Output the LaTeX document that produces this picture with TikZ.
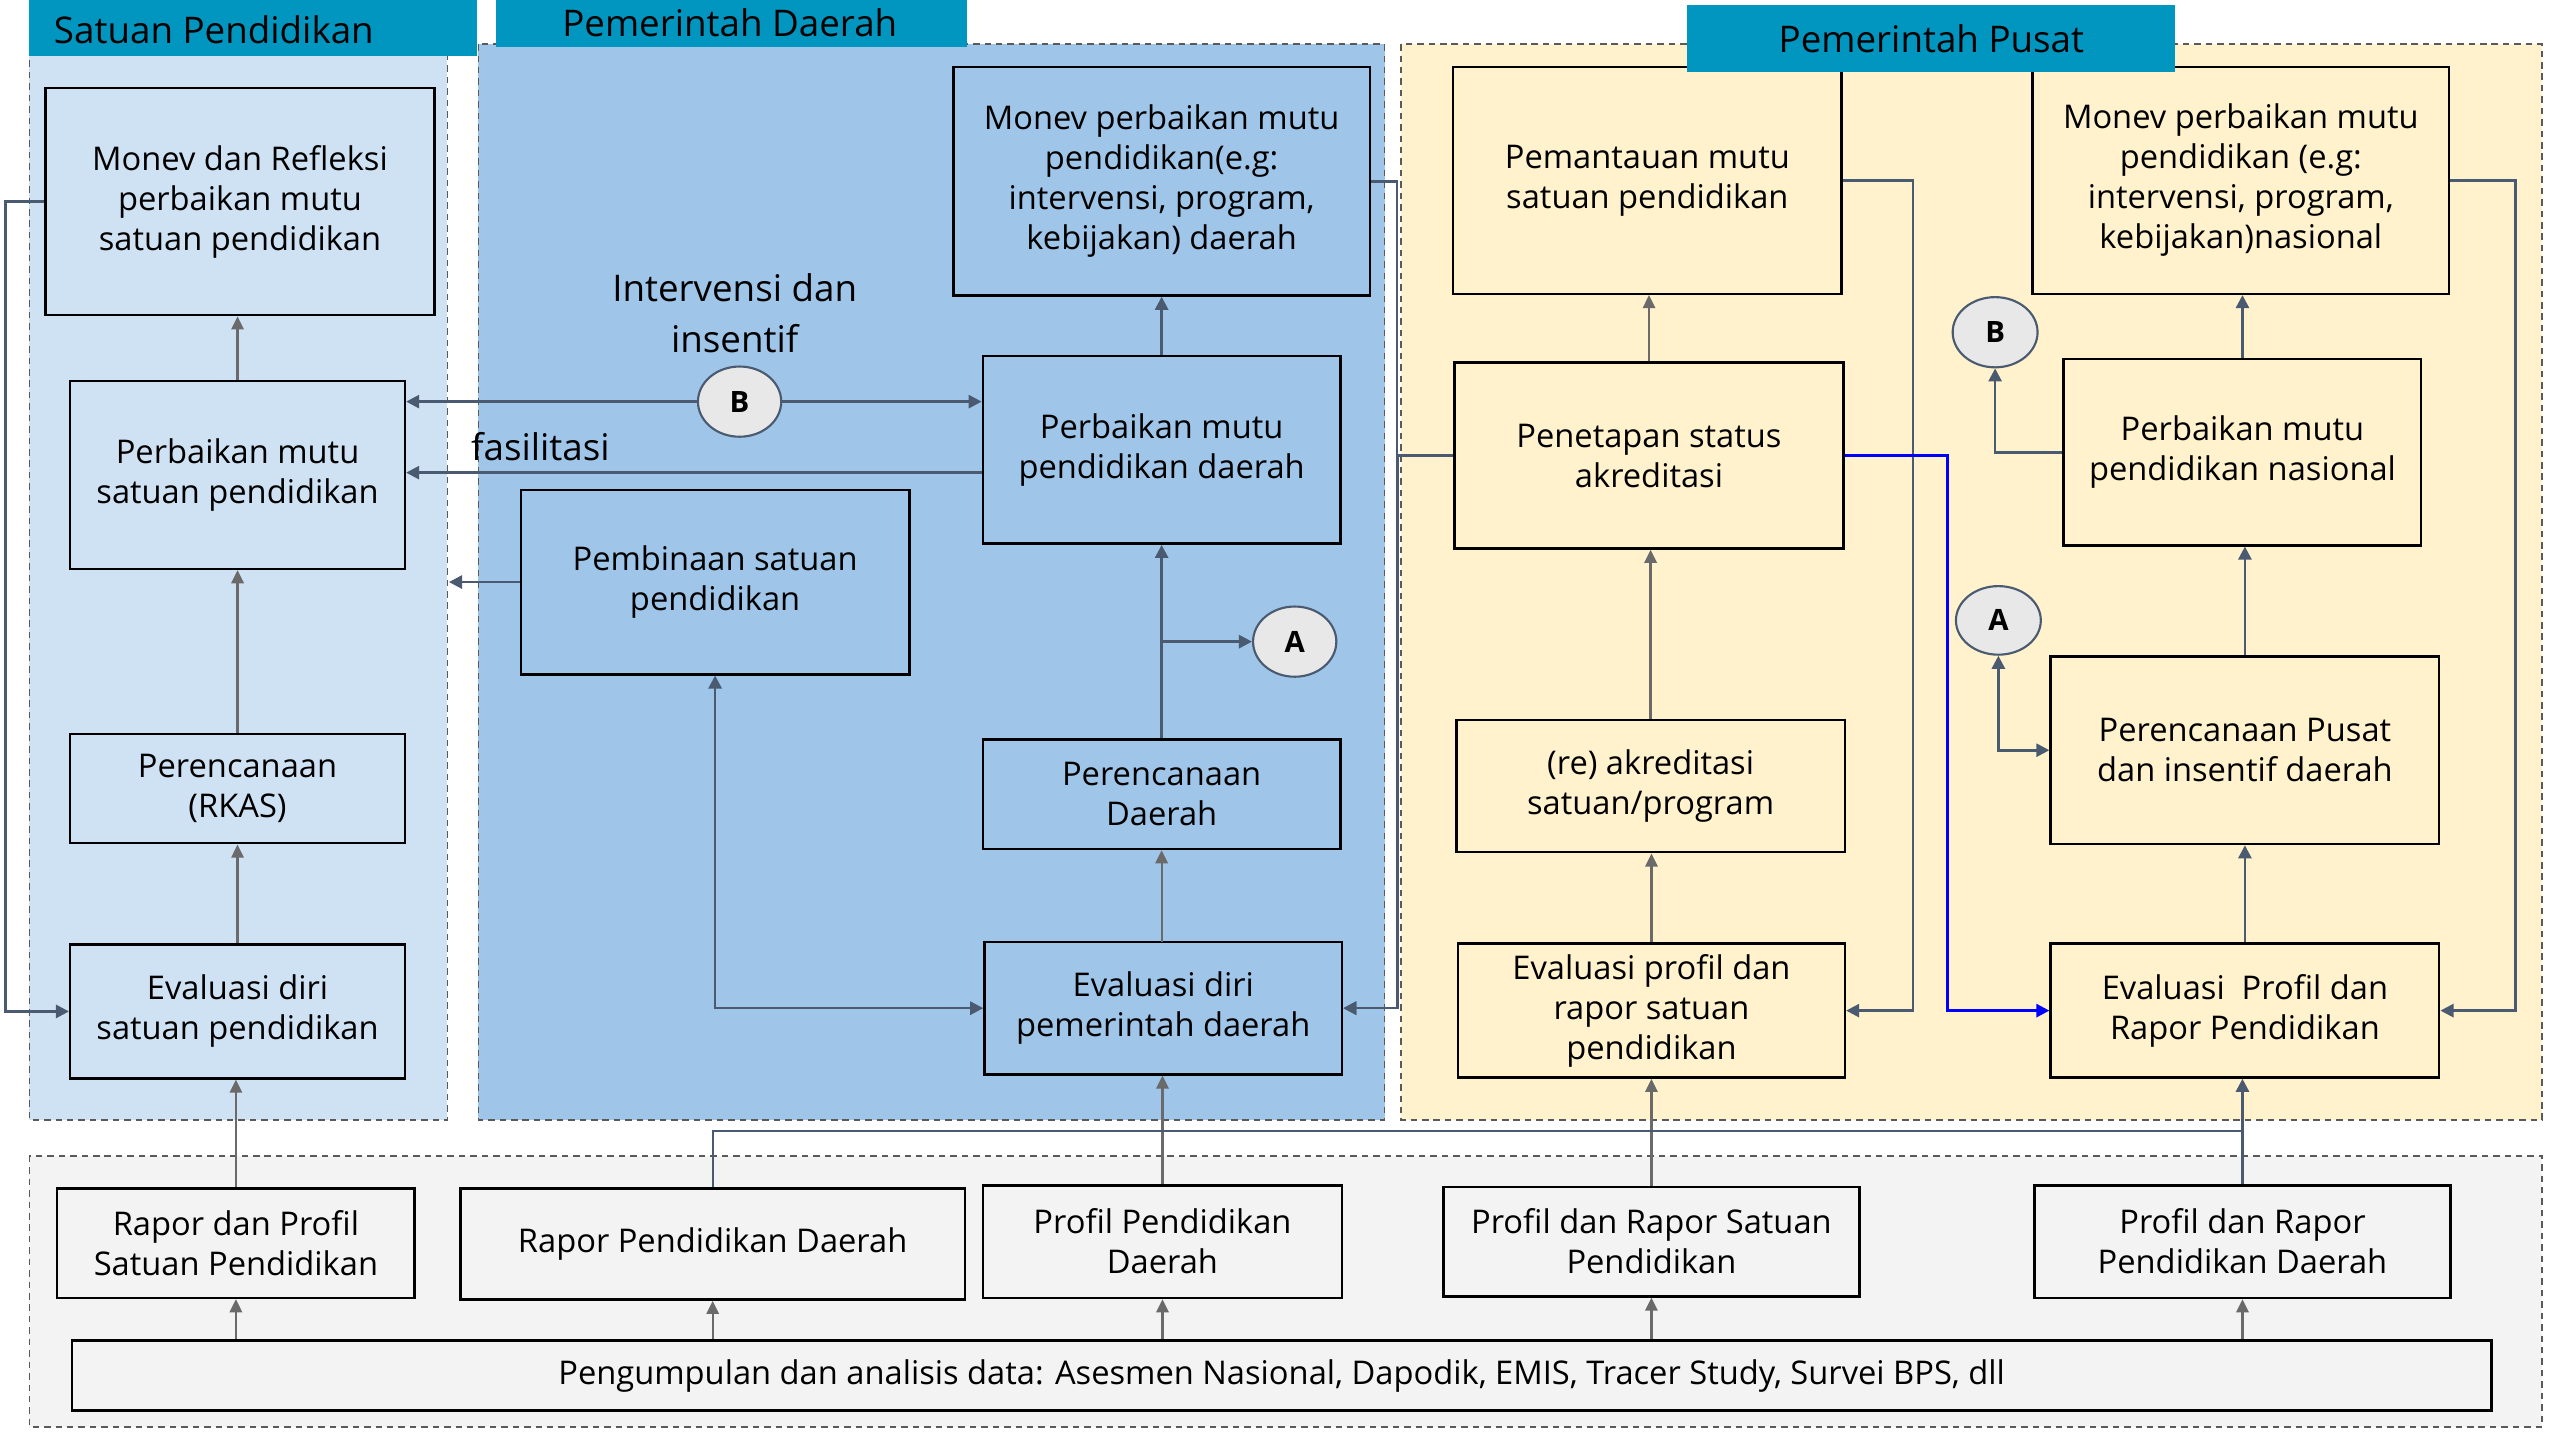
\documentclass[tikz,border=0pt]{standalone}
\usepackage{fontspec}
\setmainfont{Open Sans}
\usetikzlibrary{arrows.meta,calc,shapes.geometric}
\definecolor{hdrcol}{RGB}{0,150,192}
\definecolor{satfill}{HTML}{CFE2F3}
\definecolor{daefill}{HTML}{9FC5E8}
\definecolor{pusfill}{HTML}{FFF2CC}
\definecolor{botfill}{HTML}{F3F3F3}
\definecolor{slatecol}{HTML}{4A5A70}
\definecolor{flowcol}{HTML}{6A6A6A}
\definecolor{circfill}{HTML}{E8E8E8}
\definecolor{panelline}{HTML}{5A5A5A}
\tikzset{
  panel/.style={draw=panelline, line width=1pt, dash pattern=on 4pt off 3pt},
  box/.style={draw=black, line width=1.5pt, align=center, inner sep=2pt,
    font=\fontsize{20}{24.5}\selectfont},
  circ/.style={ellipse, draw=slatecol, line width=1.3pt, fill=circfill,
    minimum width=51pt, minimum height=43pt, inner sep=0pt,
    font=\bfseries\fontsize{18}{20}\selectfont},
  conn/.style={draw=slatecol, line width=1.6pt, -{Triangle[length=8pt,width=8pt]}},
  flow/.style={draw=flowcol, line width=1.4pt, -{Triangle[length=8pt,width=7.5pt]}},
  bus/.style={draw=slatecol, line width=1.2pt},
  hdrtext/.style={font=\fontsize{22.5}{26}\selectfont, inner sep=0pt},
  lbl/.style={font=\fontsize{22.5}{31}\selectfont, align=center, inner sep=0pt}
}
\begin{document}
\begin{tikzpicture}[x=1pt,y=-1pt]
\useasboundingbox (0,0) rectangle (1568,882);
% panels
\draw[panel, fill=satfill] (18,30) rectangle (274,686);
\draw[panel, fill=daefill] (293,27) rectangle (848,686);
\draw[panel, fill=pusfill] (858,27) rectangle (1557,686);
\draw[panel, fill=botfill] (18,708) rectangle (1557,874);
% headers (satuan & daerah)
\fill[hdrcol] (18,0) rectangle (292,34);
\node[hdrtext] (tS) at (131,18) {Satuan Pendidikan};
\fill[hdrcol] (304,0) rectangle (592,29);
\node[hdrtext] (tD) at (447,14) {Pemerintah Daerah};

% Satuan boxes
\node[box, minimum width=238pt, minimum height=139pt] (S1) at (147,123.5) {Monev dan Refleksi\\perbaikan mutu\\satuan pendidikan};
\node[box, minimum width=205pt, minimum height=115pt] (S2) at (145.5,291) {Perbaikan mutu\\satuan pendidikan};
\node[box, minimum width=205pt, minimum height=67pt] (S3) at (145.5,483) {Perencanaan\\(RKAS)};
\node[box, minimum width=205pt, minimum height=82pt] (S4) at (145.5,619.5) {Evaluasi diri\\satuan pendidikan};

% Daerah boxes
\node[box, minimum width=255pt, minimum height=140pt] (D1) at (711.5,111) {Monev perbaikan mutu\\pendidikan(e.g:\\intervensi, program,\\kebijakan) daerah};
\node[box, minimum width=219pt, minimum height=115pt] (D2) at (711.5,275.5) {Perbaikan mutu\\pendidikan daerah};
\node[box, minimum width=238pt, minimum height=113pt] (D3) at (438,356.5) {Pembinaan satuan\\pendidikan};
\node[box, minimum width=219pt, minimum height=67pt] (D4) at (711.5,486.5) {Perencanaan\\Daerah};
\node[box, minimum width=219pt, minimum height=81pt] (D5) at (712.5,617.5) {Evaluasi diri\\pemerintah daerah};
\node[circ] (B1) at (453,246) {B};
\node[circ] (A1) at (793,393) {A};
\node[lbl] (lblInt) at (450,192) {Intervensi dan\\insentif};
\node[lbl] (lblFas) at (331,273.5) {fasilitasi};

% Pusat boxes
\node[box, minimum width=238pt, minimum height=139pt] (P1) at (1009,110.5) {Pemantauan mutu\\satuan pendidikan};
\node[box, minimum width=238pt, minimum height=114pt] (P2) at (1010,279) {Penetapan status\\akreditasi};
\node[box, minimum width=238pt, minimum height=81pt] (P3) at (1011,481.5) {(re) akreditasi\\satuan/program};
\node[box, minimum width=237pt, minimum height=82pt] (P4) at (1011.5,619) {Evaluasi profil dan\\rapor satuan\\pendidikan};
\node[box, minimum width=255pt, minimum height=139pt] (P5) at (1372.5,110.5) {Monev perbaikan mutu\\pendidikan (e.g:\\intervensi, program,\\kebijakan)nasional};
\node[box, minimum width=219pt, minimum height=114pt] (P6) at (1373.5,277) {Perbaikan mutu\\pendidikan nasional};
\node[box, minimum width=238pt, minimum height=115pt] (P7) at (1375,459.5) {Perencanaan Pusat\\dan insentif daerah};
\node[box, minimum width=238pt, minimum height=82pt] (P8) at (1375,619) {Evaluasi\ \ Profil dan\\Rapor Pendidikan};
\node[circ, minimum width=52pt] (B2) at (1222,203.5) {B};
\node[circ, minimum width=52pt, minimum height=42pt] (A2) at (1224,380) {A};

% bottom boxes
\node[box, minimum width=219pt, minimum height=67pt] (R1) at (144.5,761.5) {Rapor dan Profil\\Satuan Pendidikan};
\node[box, minimum width=309pt, minimum height=68pt] (R2) at (436.5,762) {Rapor Pendidikan Daerah};
\node[box, minimum width=220pt, minimum height=69pt] (R3) at (712,760.5) {Profil Pendidikan\\Daerah};
\node[box, minimum width=255pt, minimum height=67pt] (R4) at (1011.5,760.5) {Profil dan Rapor Satuan\\Pendidikan};
\node[box, minimum width=255pt, minimum height=69pt] (R5) at (1373.5,760.5) {Profil dan Rapor\\Pendidikan Daerah};
\node[box, minimum width=1482pt, minimum height=43pt] (DATA) at (785,842.5) {Pengumpulan dan analisis data: Asesmen Nasional, Dapodik, EMIS, Tracer Study, Survei BPS, dll};

% Satuan connectors
\draw[flow] (S2.north) -- (S2.north |- S1.south);
\draw[flow] (S3.north) -- (S3.north |- S2.south);
\draw[flow] (S4.north) -- (S4.north |- S3.south);
\draw[flow] (R1.north) -- (R1.north |- S4.south);
\draw[conn] (S1.west) -- ++(-24,0) |- (S4.west);

% Daerah connectors
\draw[conn] (B1.west) -- (B1.west -| S2.east);
\draw[conn] (B1.east) -- (B1.east -| D2.west);
\draw[conn] ([yshift=-14pt]D2.west) -- ([yshift=-14pt]D2.west -| S2.east);
\coordinate (spEdge) at (275,356.5);
\draw[conn] (D3.west) -- (spEdge);
\draw[conn, {Triangle[length=8pt,width=8pt]}-{Triangle[length=8pt,width=8pt]}] (D3.south) |- (D5.west);
\draw[conn] (D2.north) -- (D2.north |- D1.south);
\draw[conn] (D4.north) -- (D4.north |- D2.south);
\draw[conn] (D4.north |- A1.west) -- (A1.west);
\draw[flow] (D5.north) -- (D5.north -| D4.south) -- (D4.south);
\draw[flow] (R3.north) -- (R3.north |- D5.south);
\draw[conn] (D1.east) -- ++(16,0) |- (D5.east);
\draw[conn] (P2.west) -- ++(-34,0) |- (D5.east);

% Pusat connectors
\draw[flow] (P2.north) -- (P2.north |- P1.south);
\draw[flow] (P3.north) -- (P3.north |- P2.south);
\draw[flow] (P4.north) -- (P4.north |- P3.south);
\draw[flow] (R4.north) -- (R4.north |- P4.south);
\draw[conn] (P1.east) -- ++(43,0) |- (P4.east);
\draw[conn, draw=blue, -{Triangle[length=8pt,width=8pt]}, blue] (P2.east) -- ++(63,0) |- (P8.west);
\draw[conn] (P5.east) -- ++(40,0) |- (P8.east);
\draw[conn] (P6.north) -- (P6.north |- P5.south);
\draw[conn] (P7.north) -- (P7.north |- P6.south);
\draw[conn] (P8.north) -- (P8.north |- P7.south);
\draw[conn] (P6.west) -| (B2.south);
\draw[conn, {Triangle[length=8pt,width=8pt]}-{Triangle[length=8pt,width=8pt]}] (A2.south) |- (P7.west);
\coordinate (busR) at (1374,693);
\draw[bus] (R2.north) |- (busR) -- (busR |- R5.north);
\draw[conn] (R5.north) -- (R5.north |- P8.south);

% data arrows
\draw[flow] (R1.south |- DATA.north) -- (R1.south);
\draw[flow] (R2.south |- DATA.north) -- (R2.south);
\draw[flow] (R3.south |- DATA.north) -- (R3.south);
\draw[flow] (R4.south |- DATA.north) -- (R4.south);
\draw[flow] (R5.south |- DATA.north) -- (R5.south);

% Pusat header on top
\fill[hdrcol] (1033,3) rectangle (1332,44);
\node[hdrtext] (tP) at (1183,24) {Pemerintah Pusat};
\end{tikzpicture}
\end{document}
